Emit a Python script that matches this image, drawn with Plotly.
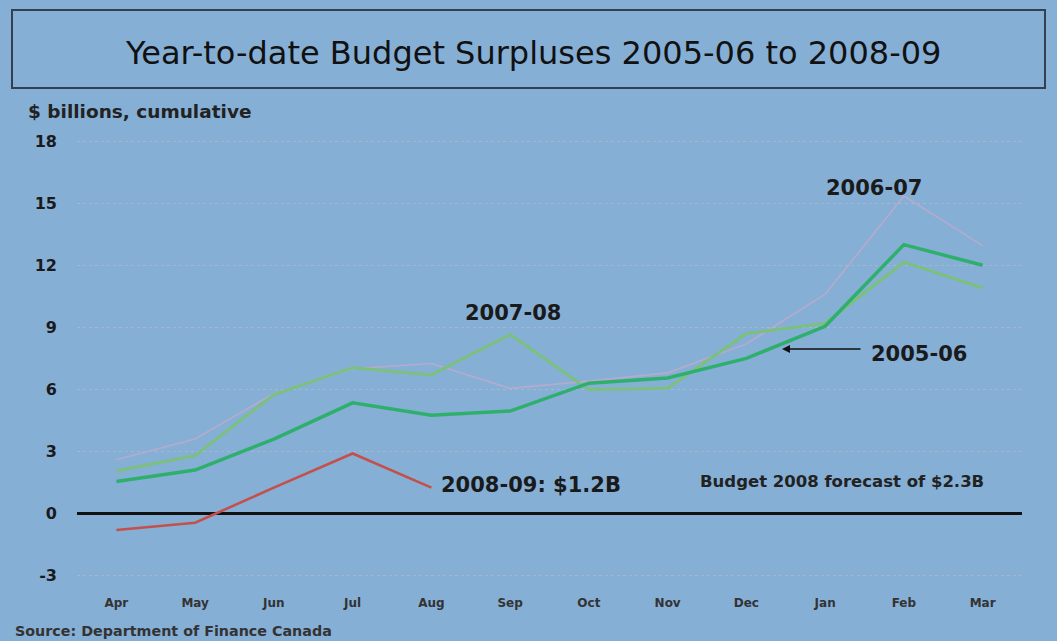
import plotly.graph_objects as go

months = ["Apr", "May", "Jun", "Jul", "Aug", "Sep", "Oct", "Nov", "Dec", "Jan", "Feb", "Mar"]
fy_2005_06 = [1.55, 2.1, 3.6, 5.35, 4.75, 4.95, 6.3, 6.55, 7.5, 9.05, 13.0, 12.0]
fy_2006_07 = [2.6, 3.6, 5.8, 7.0, 7.25, 6.05, 6.4, 6.8, 8.2, 10.6, 15.35, 12.95]
fy_2007_08 = [2.05, 2.8, 5.75, 7.05, 6.7, 8.65, 6.0, 6.05, 8.7, 9.2, 12.15, 10.9]
fy_2008_09_months = ["Apr", "May", "Jun", "Jul", "Aug"]
fy_2008_09 = [-0.8, -0.45, 1.25, 2.9, 1.25]
y_ticks = [-3, 0, 3, 6, 9, 12, 15, 18]
y_tick_text = ["-3", "0", "3", "6", "9", "12", "15", "18"]

BG = "#86afd6"
W, H = 1057, 641
L, R, T, B = 77, 35, 135, 51
PW, PH = W - L - R, H - T - B
FONT = "DejaVu Sans"


def px(x):
    return (x - L) / PW


def py(y):
    return (H - B - y) / PH


fig = go.Figure()
fig.add_trace(go.Scatter(x=months, y=fy_2006_07, mode="lines", name="2006-07",
                         line=dict(color="#b6aacd", width=1.6)))
fig.add_trace(go.Scatter(x=months, y=fy_2007_08, mode="lines", name="2007-08",
                         line=dict(color="#7cc07e", width=3)))
fig.add_trace(go.Scatter(x=months, y=fy_2005_06, mode="lines", name="2005-06",
                         line=dict(color="#2eb06c", width=3.5)))
fig.add_trace(go.Scatter(x=fy_2008_09_months, y=fy_2008_09, mode="lines", name="2008-09",
                         line=dict(color="#c4504c", width=2.6)))

fig.update_layout(
    width=W, height=H,
    margin=dict(l=L, r=R, t=T, b=B),
    paper_bgcolor=BG, plot_bgcolor=BG,
    showlegend=False,
    font=dict(family=FONT, color="#1a1a1a"),
    xaxis=dict(categoryorder="array", categoryarray=months, range=[-0.5, 11.5],
               showgrid=False, zeroline=False, showline=False, ticks="",
               ticklabelstandoff=4,
               tickfont=dict(family=FONT, size=12, color="#333333", weight="bold"),
               fixedrange=True),
    yaxis=dict(range=[-3.7, 18.3], tickvals=y_ticks, ticktext=y_tick_text, showgrid=True,
               gridcolor="rgba(175,185,205,0.8)", griddash="dot", gridwidth=1,
               zeroline=True, zerolinecolor="#111111", zerolinewidth=3,
               showline=False, ticks="", ticklabelstandoff=19,
               tickfont=dict(family=FONT, size=16, color="#1a1a1a", weight="bold"),
               fixedrange=True),
)

# title box
fig.add_shape(type="rect", xref="paper", yref="paper",
              x0=px(12), x1=px(1045), y0=py(88), y1=py(10),
              line=dict(color="#34404f", width=2), fillcolor=BG, layer="below")

def ann(text, x, y, size, xanchor="center", bold=False, color="#1a1a1a"):
    fig.add_annotation(text=text, xref="paper", yref="paper", x=px(x), y=py(y),
                       xanchor=xanchor, yanchor="middle", showarrow=False,
                       font=dict(family=FONT, size=size, color=color,
                                 weight="bold" if bold else "normal"))

ann("Year-to-date Budget Surpluses 2005-06 to 2008-09", 533, 53, 32, color="#111111")
ann("$ billions, cumulative", 26, 112, 18.5, xanchor="left", bold=True, color="#222222")
ann("Source: Department of Finance Canada", 13, 631, 14.3, xanchor="left", bold=True, color="#333333")
ann("2007-08", 513, 313, 21, bold=True)
ann("2006-07", 874, 188, 21, bold=True)
ann("2008-09: $1.2B", 439, 485, 21, xanchor="left", bold=True)
ann("Budget 2008 forecast of $2.3B", 698, 481, 16.5, xanchor="left", bold=True, color="#222222")
ann("2005-06", 869, 354, 21, xanchor="left", bold=True)

# arrow pointing to 2005-06 line
fig.add_annotation(xref="paper", yref="paper", x=px(782), y=py(349),
                   ax=80, ay=0, axref="pixel", ayref="pixel",
                   text="", showarrow=True, arrowhead=2, arrowsize=1,
                   arrowwidth=1.6, arrowcolor="#111111")

fig.write_html("out.html", config={"displayModeBar": False},
               post_script="document.body.style.margin='0';document.body.style.overflow='hidden';")
